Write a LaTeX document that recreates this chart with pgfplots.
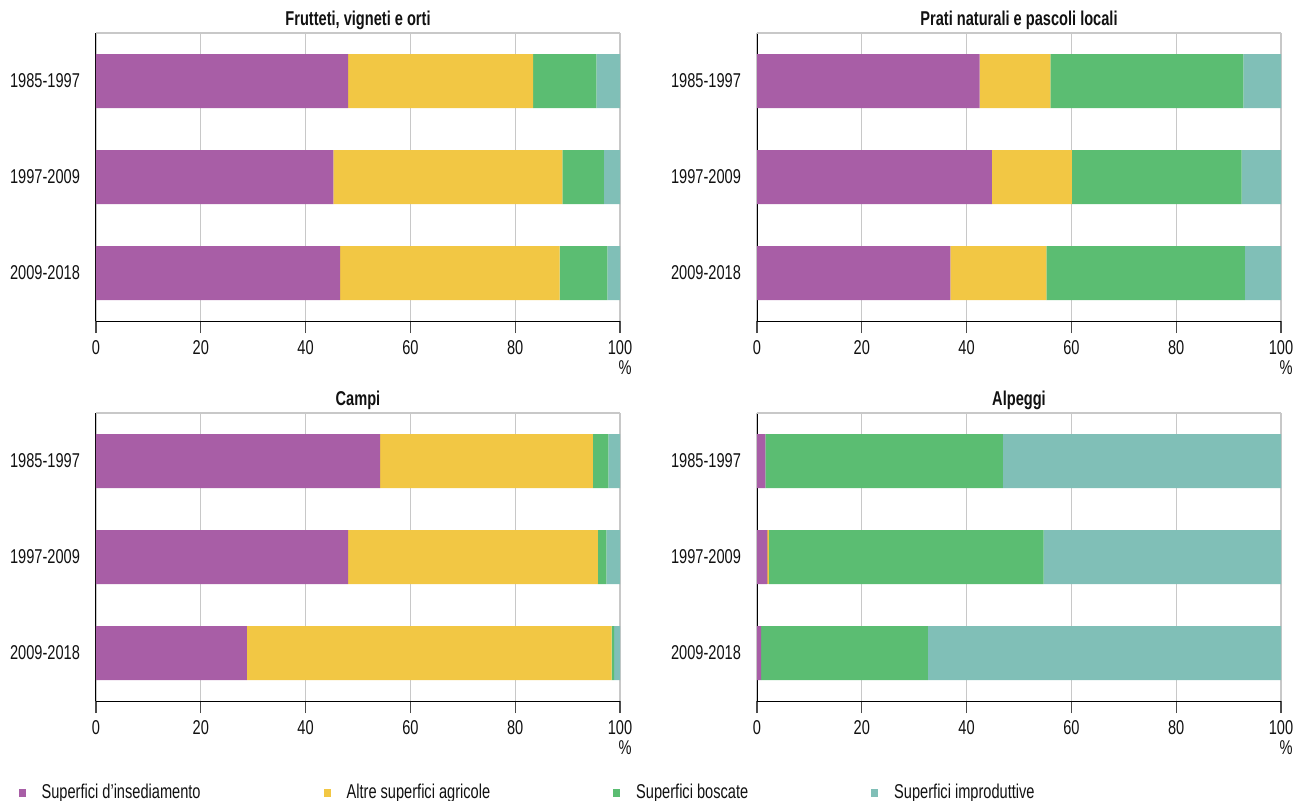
\documentclass[border=0pt]{standalone}
\usepackage{fontspec}
\setmainfont{Liberation Sans}[FakeStretch=0.73]
\usepackage{pgfplots}
\usepackage{pgfplotstable}
\pgfplotsset{compat=1.18}

\definecolor{cIns}{HTML}{A85EA6}
\definecolor{cAgr}{HTML}{F2C744}
\definecolor{cBos}{HTML}{5BBD72}
\definecolor{cImp}{HTML}{80BFB7}
\definecolor{cGrid}{HTML}{C8C8C8}
\definecolor{cTxt}{HTML}{111111}

% columns: y ins agr bos imp
\pgfplotstableread{
y ins agr bos imp
0 48.1 35.3 12.1 4.5
1 45.3 43.7 7.9 3.1
2 46.6 41.9 9.1 2.4
}\tabFru
\pgfplotstableread{
y ins agr bos imp
0 42.5 13.5 36.8 7.2
1 44.8 15.3 32.4 7.5
2 36.9 18.3 37.9 6.9
}\tabPra
\pgfplotstableread{
y ins agr bos imp
0 54.2 40.6 3.0 2.2
1 48.1 47.7 1.6 2.6
2 28.8 69.6 0.5 1.1
}\tabCam
\pgfplotstableread{
y ins agr bos imp
0 1.6 0.0 45.3 53.1
1 2.0 0.2 52.5 45.3
2 0.8 0.0 31.8 67.4
}\tabAlp

\pgfplotsset{
  panel/.style={
    scale only axis,
    width=262pt, height=144pt,
    xbar stacked,
    bar width=27pt,
    xmin=0, xmax=100,
    ymin=-0.5, ymax=2.5,
    y dir=reverse,
    axis x line*=bottom,
    axis y line*=left,
    axis line style={black, line width=0.5pt},
    xtick={0,20,40,60,80,100},
    xmajorgrids,
    grid style={cGrid, line width=0.6pt},
    tick align=outside,
    major tick length=6pt,
    x tick style={black!70, line width=0.6pt},
    ytick={0,1,2},
    yticklabels={1985-1997,1997-2009,2009-2018},
    y tick style={draw=none},
    extra y ticks={-0.5,0.5,1.5,2.5},
    extra y tick labels={},
    extra y tick style={major tick length=5pt, tick style={black, line width=0.5pt}, grid=none},
    /pgf/number format/assume math mode=true,
    tick label style={font=\fontsize{10}{12}\selectfont, text=cTxt},
    yticklabel style={xshift=1.5pt},
    every axis title shift=0pt,
    title style={font=\fontsize{10}{12}\selectfont\bfseries, text=cTxt, at={(0.5,1)}, anchor=base, yshift=4pt},
    clip=false,
  },
  sIns/.style={fill=cIns, draw=none},
  sAgr/.style={fill=cAgr, draw=none},
  sBos/.style={fill=cBos, draw=none},
  sImp/.style={fill=cImp, draw=none},
}

\newcommand{\toplinepct}{%
  \draw[cGrid, line width=0.6pt] (rel axis cs:0,1) -- (rel axis cs:1,1);
  \node[font=\fontsize{10}{12}\selectfont, text=cTxt, anchor=center] at (rel axis cs:1,0) [xshift=2.5pt, yshift=-23.5pt] {\%};
}

\begin{document}
\begin{tikzpicture}
\path[use as bounding box] (0,0) rectangle (648.5pt,400pt);

\begin{axis}[panel, at={(48pt,239.5pt)}, anchor=south west, title={Frutteti, vigneti e orti}]
\addplot[sIns] table[x=ins, y=y] {\tabFru};
\addplot[sAgr] table[x=agr, y=y] {\tabFru};
\addplot[sBos] table[x=bos, y=y] {\tabFru};
\addplot[sImp] table[x=imp, y=y] {\tabFru};
\toplinepct
\end{axis}

\begin{axis}[panel, at={(378.5pt,239.5pt)}, anchor=south west, title={Prati naturali e pascoli locali}]
\addplot[sIns] table[x=ins, y=y] {\tabPra};
\addplot[sAgr] table[x=agr, y=y] {\tabPra};
\addplot[sBos] table[x=bos, y=y] {\tabPra};
\addplot[sImp] table[x=imp, y=y] {\tabPra};
\toplinepct
\end{axis}

\begin{axis}[panel, at={(48pt,49.5pt)}, anchor=south west, title={Campi},
  legend columns=4,
  legend style={draw=none, fill=none, at={(axis description cs:-0.16,-0.32)}, anchor=west,
    font=\fontsize{10}{12}\selectfont, text=cTxt,
    /tikz/every odd column/.append style={column sep=6pt},
    /tikz/every even column/.append style={column sep=59.5pt}},
  legend image code/.code={\fill[#1] (-1.5pt,-2pt) rectangle (2pt,2pt);},
]
\addplot[sIns] table[x=ins, y=y] {\tabCam};
\addplot[sAgr] table[x=agr, y=y] {\tabCam};
\addplot[sBos] table[x=bos, y=y] {\tabCam};
\addplot[sImp] table[x=imp, y=y] {\tabCam};
\legend{Superfici d’insediamento, Altre superfici agricole, Superfici boscate, Superfici improduttive}
\toplinepct
\end{axis}

\begin{axis}[panel, at={(378.5pt,49.5pt)}, anchor=south west, title={Alpeggi}]
\addplot[sIns] table[x=ins, y=y] {\tabAlp};
\addplot[sAgr] table[x=agr, y=y] {\tabAlp};
\addplot[sBos] table[x=bos, y=y] {\tabAlp};
\addplot[sImp] table[x=imp, y=y] {\tabAlp};
\toplinepct
\end{axis}
\end{tikzpicture}
\end{document}
